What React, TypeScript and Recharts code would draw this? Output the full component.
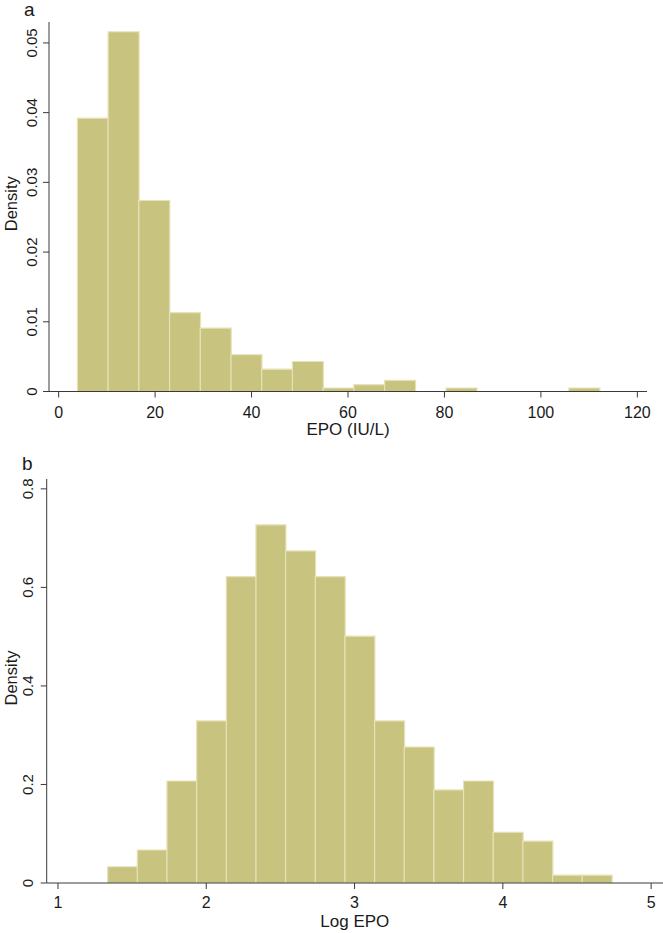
import { BarChart, Bar, XAxis, YAxis, Label } from "recharts"

// panel a: EPO histogram (bin centres, width ~6.37)
const epoBins = [7.07, 13.44, 19.81, 26.18, 32.55, 38.92, 45.29, 51.66, 58.03, 64.4, 70.77, 77.14, 83.51, 89.88, 96.25, 102.62, 108.99]
const epoDensity = [0.0392, 0.0516, 0.0274, 0.0113, 0.0091, 0.0053, 0.0032, 0.0043, 0.0005, 0.001, 0.0016, 0, 0.0005, 0, 0, 0, 0.0005]
const epoXTicks = [0, 20, 40, 60, 80, 100, 120]
const epoYTicks = [0, 0.01, 0.02, 0.03, 0.04, 0.05]

// panel b: log EPO histogram (bin centres, width 0.2)
const logBins = [1.435, 1.635, 1.835, 2.035, 2.235, 2.435, 2.635, 2.835, 3.035, 3.235, 3.435, 3.635, 3.835, 4.035, 4.235, 4.435, 4.635]
const logDensity = [0.033, 0.067, 0.207, 0.329, 0.622, 0.727, 0.674, 0.622, 0.501, 0.329, 0.276, 0.189, 0.207, 0.103, 0.085, 0.016, 0.016]
const logXTicks = [1, 2, 3, 4, 5]
const logYTicks = [0, 0.2, 0.4, 0.6, 0.8]

const FONT = "'Liberation Sans', Arial, Helvetica, sans-serif"
const AXIS = "#3a3a3a"
const TEXT = "#1a1a1a"
const FILL = "#c9c380"
const EDGE = "#e6e3b9"

const epoData = epoBins.map((x, i) => ({ x, density: epoDensity[i] }))
const logData = logBins.map((x, i) => ({ x, density: logDensity[i] }))

type TickProps = { x?: number; y?: number; payload?: { value: number } }

function VerticalTick({ x = 0, y = 0, payload }: TickProps) {
  return (
    <text
      x={x}
      y={y}
      transform={`rotate(-90 ${x} ${y})`}
      textAnchor="middle"
      fontSize={15}
      fontFamily={FONT}
      fill={TEXT}
    >
      {payload ? String(payload.value) : ""}
    </text>
  )
}

type VB = { viewBox?: { x: number; y: number; width: number; height: number } }

function xTitle(text: string) {
  return function XTitle({ viewBox }: VB) {
    if (!viewBox) return null
    return (
      <text
        x={viewBox.x + viewBox.width / 2}
        y={viewBox.y + 43.5}
        textAnchor="middle"
        fontSize={17}
        fontFamily={FONT}
        fill={TEXT}
      >
        {text}
      </text>
    )
  }
}

function yTitle(text: string, bx: number) {
  return function YTitle({ viewBox }: VB) {
    if (!viewBox) return null
    const cy = viewBox.y + viewBox.height / 2 - 3
    return (
      <text
        x={bx}
        y={cy}
        transform={`rotate(-90 ${bx} ${cy})`}
        textAnchor="middle"
        fontSize={16.5}
        fontFamily={FONT}
        fill={TEXT}
      >
        {text}
      </text>
    )
  }
}

const panelLetter = {
  position: "absolute" as const,
  fontFamily: FONT,
  fontSize: 19,
  lineHeight: "19px",
  color: TEXT,
}

export default function App() {
  return (
    <div style={{ position: "absolute", left: 0, top: 0, width: 663, height: 933, background: "#fff" }}>
      <div style={{ ...panelLetter, left: 24, top: 0 }}>a</div>
      <div style={{ ...panelLetter, left: 22, top: 454 }}>b</div>

      <div style={{ position: "absolute", left: 0, top: 0 }}>
        <BarChart
          width={663}
          height={440}
          data={epoData}
          margin={{ top: 22, right: 16, bottom: 0, left: 0 }}
          barCategoryGap={0}
          barGap={0}
        >
          <XAxis
            dataKey="x"
            type="number"
            domain={[-2, 122]}
            ticks={epoXTicks}
            allowDataOverflow
            height={48.5}
            tickSize={6}
            tickMargin={9}
            stroke={AXIS}
            tick={{ fill: TEXT, fontSize: 16, fontFamily: FONT }}
          >
            <Label content={xTitle("EPO (IU/L)")} />
          </XAxis>
          <YAxis
            type="number"
            domain={[0, 0.053]}
            ticks={epoYTicks}
            allowDataOverflow
            width={49}
            tickSize={6}
            tickMargin={6}
            stroke={AXIS}
            tick={<VerticalTick />}
          >
            <Label content={yTitle("Density", 17)} />
          </YAxis>
          <Bar dataKey="density" fill={FILL} stroke={EDGE} strokeWidth={1.2} isAnimationActive={false} />
        </BarChart>
      </div>

      <div style={{ position: "absolute", left: 0, top: 440 }}>
        <BarChart
          width={663}
          height={493}
          data={logData}
          margin={{ top: 39, right: 0, bottom: 0, left: 0 }}
          barCategoryGap={0}
          barGap={0}
        >
          <XAxis
            dataKey="x"
            type="number"
            domain={[0.924, 5.08]}
            ticks={logXTicks}
            allowDataOverflow
            height={50}
            tickSize={6}
            tickMargin={8}
            stroke={AXIS}
            tick={{ fill: TEXT, fontSize: 16, fontFamily: FONT }}
          >
            <Label content={xTitle("Log EPO")} />
          </XAxis>
          <YAxis
            type="number"
            domain={[0, 0.82]}
            ticks={logYTicks}
            allowDataOverflow
            width={46.7}
            tickSize={6}
            tickMargin={7.7}
            stroke={AXIS}
            tick={<VerticalTick />}
          >
            <Label content={yTitle("Density", 16.7)} />
          </YAxis>
          <Bar dataKey="density" fill={FILL} stroke={EDGE} strokeWidth={1.2} isAnimationActive={false} />
        </BarChart>
      </div>
    </div>
  )
}
